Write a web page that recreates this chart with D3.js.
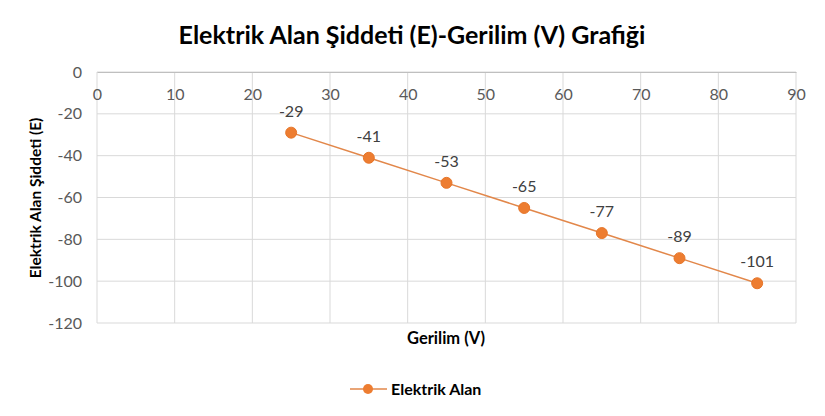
<!DOCTYPE html>
<html><head><meta charset="utf-8">
<script src="https://cdn.jsdelivr.net/npm/d3@7"></script>
<style>body{margin:0;background:#fff;} svg{display:block;font-family:Lato,"Open Sans",sans-serif;}</style>
</head><body><svg id="c" width="825" height="416"></svg>
<script>
const xValues = [25, 35, 45, 55, 65, 75, 85];
const eValues = [-29, -41, -53, -65, -77, -89, -101];
const xTicks = [0, 10, 20, 30, 40, 50, 60, 70, 80, 90];
const yTicks = [0, -20, -40, -60, -80, -100, -120];
const title = "Elektrik Alan Şiddeti (E)-Gerilim (V) Grafiği";
const xTitle = "Gerilim (V)";
const yTitle = "Elektrik Alan Şiddeti (E)";
const seriesName = "Elektrik Alan";

const svg = d3.select("#c");
const L = 97, R = 796, T = 72, B = 323;
const x = d3.scaleLinear().domain([0, 90]).range([L, R]);
const y = d3.scaleLinear().domain([0, -120]).range([T, B]);
const orange = "#ED7D31";
const fmt = d => String(d);

svg.append("text").attr("x", 412).attr("y", 44).attr("text-anchor", "middle")
  .attr("font-size", 25).attr("font-weight", "bold").attr("fill", "#000").text(title);

// gridlines
const g = svg.append("g");
g.selectAll(".hg").data(yTicks).join("line")
  .attr("x1", L).attr("x2", R).attr("y1", d => y(d)).attr("y2", d => y(d))
  .attr("stroke", "#D9D9D9").attr("stroke-width", 1);
g.selectAll(".vg").data(xTicks).join("line")
  .attr("y1", T).attr("y2", B).attr("x1", d => x(d)).attr("x2", d => x(d))
  .attr("stroke", "#D9D9D9").attr("stroke-width", 1);

// x axis (at y=0, labels below the line)
const xAxis = d3.axisTop(x).tickValues(xTicks).tickFormat(fmt).tickSize(0).tickPadding(0);
const xa = svg.append("g").attr("transform", `translate(0,${y(0)})`).call(xAxis);
xa.select(".domain").attr("stroke", "#BFBFBF");
xa.selectAll("text").attr("y", 28).attr("font-size", 16).attr("fill", "#595959")
  .attr("font-family", "Lato, 'Open Sans', sans-serif").attr("dy", null);

const yAxis = d3.axisLeft(y).tickValues(yTicks).tickFormat(fmt).tickSize(0).tickPadding(15);
const ya = svg.append("g").attr("transform", `translate(${L},0)`).call(yAxis);
ya.select(".domain").remove();
ya.selectAll("text").attr("font-size", 16).attr("fill", "#595959")
  .attr("font-family", "Lato, 'Open Sans', sans-serif");

// axis titles
svg.append("text").attr("x", 446).attr("y", 344).attr("text-anchor", "middle")
  .attr("font-size", 16.5).attr("font-weight", "bold").attr("fill", "#000").text(xTitle);
svg.append("text").attr("transform", `translate(41,198) rotate(-90)`).attr("text-anchor", "middle")
  .attr("font-size", 15.5).attr("font-weight", "bold").attr("fill", "#000").text(yTitle);

// line
const data = xValues.map((v, i) => ({x: v, e: eValues[i]}));
svg.append("path").datum(data)
  .attr("d", d3.line().x(d => x(d.x)).y(d => y(d.e)))
  .attr("fill", "none").attr("stroke", "#E2874A").attr("stroke-width", 1.5);
svg.selectAll(".pt").data(data).join("circle")
  .attr("cx", d => x(d.x)).attr("cy", d => y(d.e)).attr("r", 5.5)
  .attr("fill", orange).attr("stroke", "#E6762A").attr("stroke-width", 1);
svg.selectAll(".lb").data(data).join("text")
  .attr("x", d => x(d.x)).attr("y", d => y(d.e) - 16).attr("text-anchor", "middle")
  .attr("font-size", 16).attr("fill", "#404040").text(d => fmt(d.e));

// legend
svg.append("line").attr("x1", 350).attr("x2", 387).attr("y1", 389).attr("y2", 389)
  .attr("stroke", "#E2874A").attr("stroke-width", 1.5);
svg.append("circle").attr("cx", 368).attr("cy", 389).attr("r", 5).attr("fill", orange);
svg.append("text").attr("x", 391).attr("y", 395).attr("font-size", 16)
  .attr("font-weight", "bold").attr("fill", "#000").text(seriesName);
</script></body></html>
